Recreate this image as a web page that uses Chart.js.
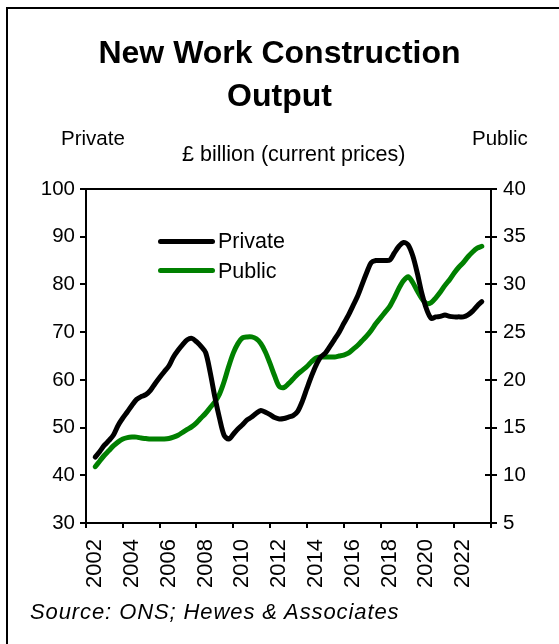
<!DOCTYPE html>
<html>
<head>
<meta charset="utf-8">
<script src="https://cdn.jsdelivr.net/npm/chart.js@4"></script>
<style>
  body { margin: 0; background: #fff; font-family: "Liberation Sans", Arial, sans-serif; }
  #wrap { position: relative; width: 559px; height: 644px; overflow: hidden; }
  #frame { position: absolute; left: 6px; top: 7px; width: 600px; height: 700px; border: 2px solid #000; }
  #chart { position: absolute; left: 0; top: 0; }
  .txt { position: absolute; white-space: nowrap; color: #000; }
  .title { font-weight: bold; font-size: 32px; width: 559px; text-align: center; left: 0; }
  .lab { font-size: 20px; }
  .leg-line { position: absolute; height: 5px; border-radius: 3px; }
</style>
</head>
<body>
<div id="wrap">
  <div id="frame"></div>
  <canvas id="chart" width="559" height="644"></canvas>
  <div class="txt title" style="top:34px;">New Work Construction</div>
  <div class="txt title" style="top:77px;">Output</div>
  <div class="txt lab" style="left:61px; top:126px; font-size:20.5px;">Private</div>
  <div class="txt lab" style="left:472px; top:126px; font-size:20.5px;">Public</div>
  <div class="txt lab" style="left:182px; top:142px; font-size:21.5px;">£ billion (current prices)</div>
  <div class="leg-line" style="left:158px; top:239px; width:57px; background:#000;"></div>
  <div class="txt lab" style="left:218px; top:229px; font-size:21.5px;">Private</div>
  <div class="leg-line" style="left:158px; top:268px; width:57px; background:#008000;"></div>
  <div class="txt lab" style="left:218px; top:259px; font-size:21.5px;">Public</div>
  <div class="txt lab" style="left:30px; top:599px; font-style:italic; font-size:22px; letter-spacing:0.9px;">Source: ONS; Hewes &amp; Associates</div>
</div>
<script>
// quarterly, Q3 2002 to Q3 2023
const quarters = [
  "2002Q3", "2002Q4",
  "2003Q1", "2003Q2", "2003Q3", "2003Q4",
  "2004Q1", "2004Q2", "2004Q3", "2004Q4",
  "2005Q1", "2005Q2", "2005Q3", "2005Q4",
  "2006Q1", "2006Q2", "2006Q3", "2006Q4",
  "2007Q1", "2007Q2", "2007Q3", "2007Q4",
  "2008Q1", "2008Q2", "2008Q3", "2008Q4",
  "2009Q1", "2009Q2", "2009Q3", "2009Q4",
  "2010Q1", "2010Q2", "2010Q3", "2010Q4",
  "2011Q1", "2011Q2", "2011Q3", "2011Q4",
  "2012Q1", "2012Q2", "2012Q3", "2012Q4",
  "2013Q1", "2013Q2", "2013Q3", "2013Q4",
  "2014Q1", "2014Q2", "2014Q3", "2014Q4",
  "2015Q1", "2015Q2", "2015Q3", "2015Q4",
  "2016Q1", "2016Q2", "2016Q3", "2016Q4",
  "2017Q1", "2017Q2", "2017Q3", "2017Q4",
  "2018Q1", "2018Q2", "2018Q3", "2018Q4",
  "2019Q1", "2019Q2", "2019Q3", "2019Q4",
  "2020Q1", "2020Q2", "2020Q3", "2020Q4",
  "2021Q1", "2021Q2", "2021Q3", "2021Q4",
  "2022Q1", "2022Q2", "2022Q3", "2022Q4",
  "2023Q1", "2023Q2", "2023Q3"
];

// private new work, £bn (left axis)
const privateOutput = [
  43.8, 45.0,
  46.3, 47.3, 48.5, 50.5,
  52.0, 53.3, 54.7, 55.9,
  56.5, 56.9, 57.8, 59.2,
  60.5, 61.7, 62.9, 64.8,
  66.2, 67.4, 68.4, 68.7,
  68.0, 67.0, 65.7, 61.5,
  56.4, 52.0, 48.4, 47.6,
  48.6, 49.7, 50.6, 51.6,
  52.2, 53.0, 53.6, 53.2,
  52.7, 52.1, 51.8, 51.9,
  52.2, 52.5, 53.4, 55.5,
  58.2, 60.8, 63.1, 64.8,
  65.6, 67.0, 68.5, 70.0,
  71.8, 73.5, 75.5, 77.5,
  80.0, 82.5, 84.6, 85.0,
  85.0, 85.0, 85.1, 86.6,
  88.0, 88.8, 88.3, 86.0,
  82.3, 78.0, 74.8, 72.9,
  73.2, 73.3, 73.6, 73.3,
  73.2, 73.2, 73.2, 73.6,
  74.4, 75.5, 76.4
];

// public new work, £bn (right axis)
const publicOutput = [
  10.9, 11.5,
  12.1, 12.6, 13.1, 13.5,
  13.8, 13.95, 14.0, 14.0,
  13.9, 13.85, 13.8, 13.8,
  13.8, 13.8, 13.85, 14.0,
  14.2, 14.5, 14.8, 15.1,
  15.5, 16.0, 16.5, 17.1,
  17.7, 18.5, 19.8, 21.4,
  22.8, 23.8, 24.4, 24.5,
  24.5, 24.3, 23.8, 22.9,
  21.7, 20.4, 19.3, 19.2,
  19.6, 20.1, 20.6, 21.0,
  21.4, 21.9, 22.3, 22.4,
  22.4, 22.4, 22.4, 22.5,
  22.6, 22.8, 23.2, 23.6,
  24.1, 24.6, 25.2, 25.9,
  26.5, 27.1, 27.7, 28.6,
  29.6, 30.4, 30.8, 30.2,
  29.3, 28.5, 28.0, 28.1,
  28.6, 29.2, 29.9, 30.5,
  31.2, 31.8, 32.3, 32.9,
  33.4, 33.8, 34.0
];

const xTicks = [2002, 2004, 2006, 2008, 2010, 2012, 2014, 2016, 2018, 2020, 2022];
const leftTicks = [30, 40, 50, 60, 70, 80, 90, 100];
const rightTicks = [5, 10, 15, 20, 25, 30, 35, 40];

function qToYear(q) {
  return parseInt(q.slice(0, 4)) + (parseInt(q.slice(5)) - 1) / 4;
}

const privatePts = quarters.map((q, i) => ({ x: qToYear(q), y: privateOutput[i] }));
const publicPts = quarters.map((q, i) => ({ x: qToYear(q), y: publicOutput[i] }));

const tickFont = { family: "Liberation Sans", size: 20.5 };

// box round the plot and the inward half of the right-axis ticks
const frameBox = {
  id: "frameBox",
  afterDraw(chart) {
    const { ctx, chartArea } = chart;
    const y2 = chart.scales.y2;
    ctx.save();
    ctx.strokeStyle = "#000";
    ctx.lineWidth = 2;
    ctx.beginPath();
    ctx.moveTo(chartArea.left, chartArea.top);
    ctx.lineTo(chartArea.right, chartArea.top);
    ctx.stroke();
    rightTicks.forEach((v) => {
      const py = Math.round(y2.getPixelForValue(v));
      ctx.beginPath();
      ctx.moveTo(chartArea.right - 6, py);
      ctx.lineTo(chartArea.right, py);
      ctx.stroke();
    });
    ctx.restore();
  },
};

new Chart(document.getElementById("chart"), {
  type: "line",
  data: {
    datasets: [
      {
        label: "Private",
        data: privatePts,
        yAxisID: "y",
        borderColor: "#000000",
        borderWidth: 5,
        pointRadius: 0,
        tension: 0.3,
        borderCapStyle: "round",
        borderJoinStyle: "round",
      },
      {
        label: "Public",
        data: publicPts,
        yAxisID: "y2",
        borderColor: "#008000",
        borderWidth: 5,
        pointRadius: 0,
        tension: 0.3,
        borderCapStyle: "round",
        borderJoinStyle: "round",
      },
    ],
  },
  options: {
    responsive: false,
    animation: false,
    layout: { padding: { top: 189, left: 0, right: 0, bottom: 40 } },
    plugins: { legend: { display: false }, tooltip: { enabled: false } },
    scales: {
      x: {
        type: "linear",
        min: 2002,
        max: 2024,
        afterBuildTicks: (s) => {
          s.ticks = xTicks.concat([2024]).map((v) => ({ value: v }));
        },
        afterFit: (s) => { s.height = 81; },
        grid: { drawOnChartArea: false, color: "#000", tickLength: 5, lineWidth: 2 },
        border: { color: "#000", width: 2 },
        ticks: {
          color: "#000",
          font: { family: "Liberation Sans", size: 22 },
          minRotation: 90,
          maxRotation: 90,
          labelOffset: 9,
          padding: 11,
          callback: (v) => (xTicks.includes(v) ? String(v) : ""),
        },
      },
      y: {
        position: "left",
        min: 30,
        max: 100,
        afterBuildTicks: (s) => { s.ticks = leftTicks.map((v) => ({ value: v })); },
        afterFit: (s) => { s.width = 86; },
        grid: { drawOnChartArea: false, color: "#000", tickLength: 6, lineWidth: 2 },
        border: { color: "#000", width: 2 },
        ticks: { color: "#000", font: tickFont, padding: 5 },
      },
      y2: {
        position: "right",
        min: 5,
        max: 40,
        afterBuildTicks: (s) => { s.ticks = rightTicks.map((v) => ({ value: v })); },
        afterFit: (s) => { s.width = 68; },
        grid: { drawOnChartArea: false, color: "#000", tickLength: 6, lineWidth: 2 },
        border: { color: "#000", width: 2 },
        ticks: { color: "#000", font: tickFont, padding: 6 },
      },
    },
  },
  plugins: [frameBox],
});
</script>
</body>
</html>
